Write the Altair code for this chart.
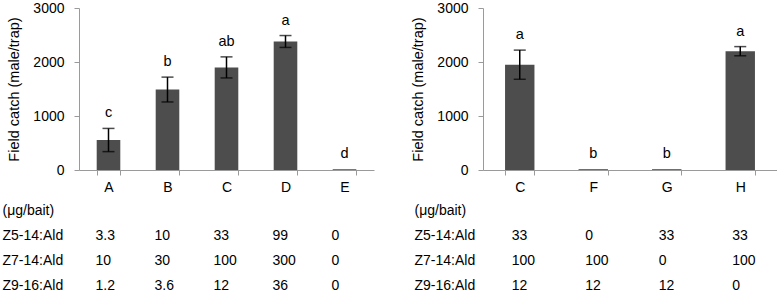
import altair as alt
import pandas as pd

# Lure blends A-E: mean catch, standard error, significance letters
left_groups = ["A", "B", "C", "D", "E"]
left_catch = [555, 1490, 1900, 2380, 15]
left_se = [215, 230, 195, 110, 0]
left_letters = ["c", "b", "ab", "a", "d"]

# Lure blends C, F, G, H (one component removed at a time)
right_groups = ["C", "F", "G", "H"]
right_catch = [1950, 15, 15, 2200]
right_se = [270, 0, 0, 85]
right_letters = ["a", "b", "b", "a"]

# Dose table shown under each panel
row_labels = ["(μg/bait)", "Z5-14:Ald", "Z7-14:Ald", "Z9-16:Ald"]
left_z5 = ["3.3", "10", "33", "99", "0"]
left_z7 = ["10", "30", "100", "300", "0"]
left_z9 = ["1.2", "3.6", "12", "36", "0"]
right_z5 = ["33", "0", "33", "33"]
right_z7 = ["100", "100", "0", "100"]
right_z9 = ["12", "12", "12", "0"]

FONT = "Liberation Sans"
BAR = "#4d4d4d"
GRAY = "#9a9a9a"
FS = 14


def x_enc(groups, axis):
    return alt.X(
        "group:N",
        sort=groups,
        scale=alt.Scale(domain=groups, paddingInner=0.6, paddingOuter=0.3),
        axis=axis,
    )


def bar_panel(groups, catch, se, letters, width):
    df = pd.DataFrame({"group": groups, "catch": catch, "se": se, "letter": letters})
    df["lo"] = df["catch"] - df["se"]
    df["hi"] = df["catch"] + df["se"]

    xa = alt.Axis(
        title=None, labelAngle=0, tickBand="extent", tickSize=5,
        labelPadding=5, domainColor=GRAY, tickColor=GRAY,
    )
    x = x_enc(groups, xa)
    yscale = alt.Scale(domain=[0, 3000])
    ya = alt.Axis(
        title="Field catch (male/trap)", values=[0, 1000, 2000, 3000], format="d",
        grid=False, tickSize=5, labelPadding=10, titlePadding=11,
        domainColor=GRAY, tickColor=GRAY,
    )

    base = alt.Chart(df)
    bars = base.mark_bar(color=BAR).encode(
        x=x, y=alt.Y("catch:Q", scale=yscale, axis=ya)
    )
    err = base.transform_filter("datum.se > 0")
    stems = err.mark_rule(color="black", strokeWidth=1.5).encode(
        x=x, y=alt.Y("lo:Q", scale=yscale), y2="hi:Q"
    )
    cap_lo = err.mark_tick(color="black", size=12, thickness=1.5).encode(
        x=x, y=alt.Y("lo:Q", scale=yscale)
    )
    cap_hi = err.mark_tick(color="black", size=12, thickness=1.5).encode(
        x=x, y=alt.Y("hi:Q", scale=yscale)
    )
    marks = base.mark_text(baseline="bottom", dy=-8, fontSize=14.5, color="black").encode(
        x=x, y=alt.Y("hi:Q", scale=yscale), text="letter:N"
    )
    return alt.layer(bars, stems, cap_lo, cap_hi, marks).properties(width=width, height=162)


def table_panel(groups, z5, z7, z9, width, label_pad, dx):
    recs = []
    for g, a, b, c in zip(groups, z5, z7, z9):
        recs.append({"group": g, "row": row_labels[1], "val": a})
        recs.append({"group": g, "row": row_labels[2], "val": b})
        recs.append({"group": g, "row": row_labels[3], "val": c})
    df = pd.DataFrame(recs)
    return alt.Chart(df).mark_text(align="left", dx=dx, fontSize=FS, color="black").encode(
        x=x_enc(groups, None),
        y=alt.Y(
            "row:N",
            scale=alt.Scale(type="point", domain=row_labels, padding=0.5),
            axis=alt.Axis(
                title=None, domain=False, ticks=False, tickSize=0,
                labelAlign="left", labelPadding=label_pad,
            ),
        ),
        text="val:N",
    ).properties(width=width, height=100)


left = alt.vconcat(
    bar_panel(left_groups, left_catch, left_se, left_letters, 295),
    table_panel(left_groups, left_z5, left_z7, left_z9, 295, 77, -13),
    spacing=4,
)
right = alt.vconcat(
    bar_panel(right_groups, right_catch, right_se, right_letters, 294),
    table_panel(right_groups, right_z5, right_z7, right_z9, 294, 69, -8),
    spacing=4,
)

chart = (
    alt.hconcat(left, right, spacing=36)
    .properties(padding={"left": 2, "top": 1, "right": 0, "bottom": 0})
    .configure(font=FONT)
    .configure_view(stroke=None)
    .configure_axis(
        labelFont=FONT, titleFont=FONT, labelFontSize=FS, titleFontSize=14.5,
        titleFontWeight="normal", labelColor="black", titleColor="black",
    )
    .configure_text(font=FONT)
)

chart.save("out.html", embed_options={"renderer": "svg", "actions": False})
